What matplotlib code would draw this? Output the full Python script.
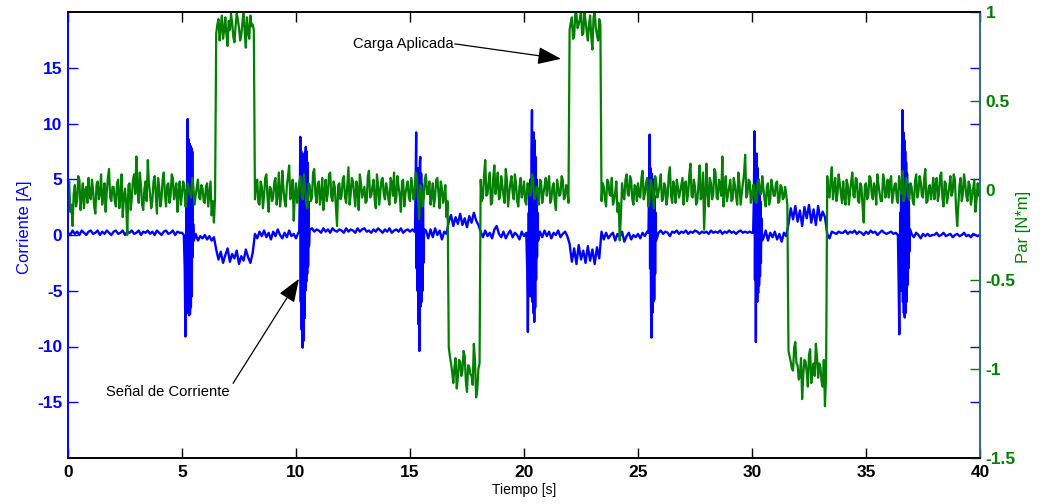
import numpy as np
import matplotlib
matplotlib.use("Agg")
import matplotlib.pyplot as plt

plt.rcParams['font.family'] = ['Liberation Sans', 'DejaVu Sans']

# muestreo base cada 0.1 s (0 .. 40 s)
dt = 0.1

# par medido, en centesimas de N*m (t = 0, 0.1, ... 40)
par_cNm = [
    -4, -12, -20, 3, -6, 6, -3, -10, 2, 7,
    -5, 0, -13, 5, -2, -8, 4, -1, 12, -6,
    2, -9, 6, -3, -15, 1, -25, 4, -4, 9,
    19, -7, 3, -11, 5, 17, -2, -6, 8, -13,
    2, -5, 10, -9, 4, -3, 7, -1, -12, 5,
    -2, 3, -6, 1, -4, 2, -3, 6, -5, 1,
    -7, 4, -2, -14, -18,
    88, 96, 92, 85, 97, 81, 90, 94, 83, 99,
    91, 87, 101, 80, 89, 98, 93,
    -5, 6, -8, 2, -3, 9, -12, 1,
    -4, 7, -2, -9, 11, -6, 3, 14, -3, -17,
    4, -2, 8, -5, 1, -10, 3, -4, 12, -7,
    5, -3, -11, 6, -1, 10, -6, 2, -20, 4,
    -3, 8, -7, 13, -2, 5, -9, 1, 9, -4,
    2, -6, 11, -3, 6, -10, 3, -1, 7, -5,
    1, -8, 4, 10, -4, 2, -12, 6, -2, 5,
    -6, 3, -3, 8, -16, 2, -5, 9, -2, -8,
    4, -4, 7, -10, 1, -3, -15,
    -88, -97, -108, -94, -105, -96, -101, -93, -113, -99, -104, -86, -116, -100,
    6, -4, 17, -2, 10, -7, 14, 3, -5,
    8, -3, 12, -9, 4, -1, 9, -6, 2, -4,
    5, -8, 3, -2, 7, -4, 1, 6, -7, 2,
    -3, 8, -5, 4, -11, 2, -2, 6, -4, 1,
    90, 97, 86, 99, 93, 101, 88, 95, 84, 98, 79, 100, 87, 96,
    -6, 2, -9, 5, -3, -8,
    -1, -12, -28, 4, -5, 9, -3, 6, -8, 2,
    4, -4, 11, -2, 7, -6, 3, -10, 5, -1,
    9, -5, 2, -3, 13, -7, 1, 6, -4, 3,
    -8, 5, -2, 15, -4, 2, -6, 14, -3, -22,
    15, -9, 4, -2, 10, -5, 3, 19, 1, -6,
    2, -6, 7, -3, 10, -8, 4, 20, -2, 5,
    -4, 3, -7, 6, -2, 1, -9, 4, -5, 2,
    -3, 5, -6, 2, -4, -2,
    -90, -96, -101, -85, -98, -104, -117, -95, -102, -92, -108, -97, -86, -105, -99, -110, -121,
    8, -4, 13, 2, -6, 9, -2,
    5, -8, 3, -1, 10, -4, 6, -7, 2, -18,
    4, -3, 7, -5, 1, 9, -2, -6, 5, -1,
    -4, 8, -2, 4, -7, 3, 11, -3, 6, -5,
    2, -8, 9, -1, 5, -4, 12, -6, 3, 0,
    -5, 7, -2, 10, -9, 4, -3, 8, -1, 6,
    -20, 3, -6, 9, -3, 5, -8, 1, -12, 4,
    -2,
]

# par en los instantes intermedios (t = 0.05, 0.15, ... 39.95)
par_medio_cNm = [
    5, -8, -2, -9, 8, -11, 4, 0, -7, -3,
    6, -9, 3, -5, 9, -3, -12, 7, -4, 2,
    -6, 4, -10, 9, -4, -7, 3, -11, 6, -2,
    2, 10, -8, 1, -6, 4, -10, 5, -3, 7,
    -9, 6, -2, 3, -7, 9, -5, 4, -1, -8,
    5, -9, 4, -2, 7, -8, 2, -4, 3, -6,
    2, -9, 5, -6, -4,
    93, 84, 98, 90, 87, 95, 99, 86, 92, 96, 84, 94, 89, 97, 85, 92, 90,
    3, -7, 5, -10, 7, -4, 2, -6,
    5, -8, 10, -3, 1, -9, 8, -5, 6, -2,
    -7, 5, -3, 9, -8, 4, -6, 10, -2, 3,
    -8, 7, -1, -6, 9, -4, 5, -9, 3, -5,
    6, -4, 3, -8, 7, -2, 5, -11, 4, -1,
    -7, 8, -4, 2, -5, 9, -8, 6, -2, 4,
    -5, 7, -3, -7, 8, -3, 5, -9, 2, -4,
    7, -5, 10, -4, 3, -9, 6, -2, 5, -3,
    -9, 6, -2, 5, -7, 3, -6,
    -93, -102, -99, -111, -95, -104, -90, -107, -98, -103, -109, -95, -112, -97,
    -6, 9, -3, 5, -8, 7, -2, 10, -4,
    3, -7, 6, -2, 8, -5, 4, -9, 7, -1,
    -6, 4, -3, 9, -5, 2, -8, 5, -2, 7,
    4, -7, 2, -6, 6, -3, 8, -5, 3, -7,
    94, 85, 99, 91, 96, 87, 100, 89, 93, 86, 97, 91, 84, 93,
    4, -5, 6, -2, 7, -6,
    5, -7, -14, -3, 6, -2, 8, -5, 3, -6,
    -3, 7, -5, 4, -9, 6, -2, 8, -4, 3,
    -6, 4, -8, 9, -3, 5, -7, 2, -1, 7,
    4, -6, 9, -3, 6, -8, 3, -5, 10, -4,
    -2, 7, -5, 12, -4, 6, -3, -9, 8, -2,
    6, -5, 3, -8, 4, -2, 9, -4, 6, -7,
    3, -6, 5, -2, 8, -5, 2, -8, 6, -3,
    4, -7, 3, -5, 2, -8,
    -93, -100, -88, -97, -106, -94, -103, -96, -110, -89, -101, -104, -93, -97, -107, -95, -103,
    -3, 6, -5, 7, -2, 4, -7,
    -4, 6, -8, 5, -3, 7, -6, 4, -9, 3,
    -5, 8, -2, 4, -8, 3, -6, 9, -4, 6,
    5, -7, 3, -5, 8, -2, -6, 7, -3, 4,
    -6, 5, -4, 8, -3, 6, -7, 2, -5, 7,
    3, -6, 8, -4, 5, -7, 2, -3, 9, -10,
    -8, 7, -2, 4, -6, 3, -4, 6, -5, -3,
]

# corriente de fase, en decimas de A
corriente_dA = [
    2, 0, 4, 1, 3, 0, 4, 2, 0, 3,
    4, 1, 2, 4, 0, 3, 1, 4, 2, 0,
    3, 4, 1, 2, 4, 0, 3, 2, 4, 1,
    2, 4, 0, 3, 2, 4, 1, 3, 0, 4,
    2, 0, 3, 4, 1, 2, 4, 0, 3, 2,
    2, 1, 0, 0, 0, -2, 1, -5, -1, -3,
    0, -4, -1, -5, -2,
    -13, -22, -15, -25, -18, -12, -24, -17, -21, -14, -26, -19, -23, -13, -20, -25, -16,
    1, -3, 3, -1, 4, -2, 2, -4,
    3, -1, 5, 0, -3, 2, -2, 4, -1, 1,
    -3, 2, 0, 0, 0, 0, 4, 6, 3, 5,
    4, 2, 6, 3, 5, 2, 6, 4, 3, 5,
    4, 2, 6, 3, 5, 4, 2, 6, 3, 5,
    6, 3, 4, 2, 5, 3, 6, 4, 2, 5,
    3, 6, 2, 4, 5, 3, 6, 2, 4, 5,
    3, 5, 3, 0, 0, 0, 0, 4, -3, 5,
    -2, 6, 0, 4, -4, 3, 1,
    12, 18, 8, 16, 10, 19, 9, 15, 7, 17, 11, 20, 13, 9,
    3, -2, 4, -1, 2, -3, 5, 8, 1,
    -2, 3, -3, 1, 4, -2, 2, 0, -4, 3,
    -1, 2, 0, 0, 0, 0, 0, 3, -2, 4,
    -1, 3, -3, 2, 0, 4, -2, 1, 3, -1,
    -8, -24, -12, -26, -9, -22, -14, -25, -10, -23, -13, -26, -11, -21,
    3, -4, 2, -3, 0, 2,
    -5, 1, -2, 3, -6, -1, 2, -4, 0, -2,
    1, -3, 2, -1, 3, 0, 0, 0, 0, 2,
    4, 1, 3, 2, -1, 3, 2, 4, 1, 3,
    2, 4, 1, 3, 2, 4, 3, 1, 3, 2,
    3, 1, 4, 2, 3, 2, 4, 1, 3, 2,
    4, 2, 3, 1, 3, 4, 2, 3, 2, 3,
    2, 0, 0, 0, 0, -3, 4, -5, 2, -2,
    3, -4, 1, -6, 2, -1,
    10, 24, 14, 26, 12, 22, 8, 25, 15, 27, 11, 23, 9, 26, 13, 21, 16,
    1, -3, 3, 2, 1, 3, 2,
    2, 4, 1, 3, 2, 4, 1, 3, 2, 0,
    3, 1, 4, 2, 3, 0, 2, 4, 2, 1,
    2, 3, 1, 2, 0, 0, 0, 0, 0, 0,
    1, -2, 2, 0, -3, 1, -1, 1, -1, 0,
    0, 2, -1, 0, 2, -1, 0, 1, -2, 0,
    1, -1, 0, 2, -1, 0, -2, 1, 0, -1,
    0,
]

# transitorios de corriente en cada cambio de carga (t [s], i [A])
picos_t = [
    [5.08, 5.12, 5.15, 5.17, 5.19, 5.21, 5.23, 5.25, 5.27, 5.29, 5.31, 5.33, 5.35,
     5.37, 5.39, 5.41, 5.43, 5.45, 5.47, 5.49, 5.52],
    [10.14, 10.17, 10.19, 10.21, 10.23, 10.25, 10.27, 10.29, 10.31, 10.33, 10.35,
     10.37, 10.39, 10.41, 10.43, 10.45, 10.47, 10.49, 10.51, 10.53, 10.55, 10.57, 10.60],
    [15.22, 15.25, 15.27, 15.29, 15.31, 15.33, 15.35, 15.37, 15.39, 15.41, 15.43,
     15.45, 15.47, 15.49, 15.51, 15.53, 15.55, 15.57, 15.59, 15.62],
    [20.10, 20.14, 20.17, 20.19, 20.21, 20.23, 20.25, 20.27, 20.29, 20.31, 20.33,
     20.35, 20.37, 20.39, 20.41, 20.43, 20.45, 20.47, 20.49, 20.51, 20.53, 20.55,
     20.57, 20.59, 20.62],
    [25.46, 25.49, 25.51, 25.53, 25.55, 25.57, 25.59, 25.61, 25.63, 25.65, 25.67,
     25.69, 25.71, 25.73, 25.75, 25.77, 25.80],
    [30.05, 30.08, 30.11, 30.13, 30.15, 30.17, 30.19, 30.21, 30.23, 30.25, 30.27,
     30.29, 30.31, 30.33, 30.35, 30.37, 30.39, 30.41, 30.44],
    [36.40, 36.43, 36.46, 36.48, 36.50, 36.52, 36.54, 36.56, 36.58, 36.60, 36.62,
     36.64, 36.66, 36.68, 36.70, 36.72, 36.74, 36.76, 36.78, 36.80, 36.82, 36.84,
     36.86, 36.88, 36.90, 36.93],
]
picos_i = [
    [0, -3, -9.1, -5, 4, -6, 7, 10.4, -7, 8.6, -7.2, 8.2, -7.1,
     8.0, -6.5, 7.8, -5.5, 7.5, -2, 1, -0.5],
    [0.3, 4, 8.8, -6, 7.5, -8.5, 7.2, -10.1, 7.0, -9.5, 7.2,
     -7.5, 7.4, -5, 7.9, -4.2, 7.5, -3.5, 6.5, -2.8, 3, -1, 0.5],
    [0.3, 5, 9.2, -3, 6, -5, 5.5, -8, 6, -10.4, 6.5,
     7.0, -6.4, 5.5, -6.0, 4.5, -5, 3, -2.5, 0.5],
    [0.2, -3, -8.7, -4, 2, -5, 4, -5.5, 5, -5, 7,
     11.2, -6, 8.5, -7, 9.2, -7.8, 8.5, -6.5, 7, -4, 5,
     -2, 2, -0.5],
    [0.2, 5, 9.0, -3, 6, -6, -9.2, 5.5, -7, 5, -6,
     4.5, -5.8, 3.5, -3.5, 2, -0.5],
    [0.2, 3, 9.3, -4, 6, -9.6, 6.5, 7.3, -6, 6, -5.2,
     5, -4.5, 4, -3.7, 3, -2.5, 1.5, -0.5],
    [0, -4, -8.9, -3, 2, -4, 4, -5, 7, 11.2, -6,
     9.2, -7, 8.5, -7.4, 7.5, -7, 6.5, -6, 5.5, -4.5, 4.5,
     -3, 3, -1.5, 0.5],
]

# par intercalado: muestras enteras y medias
n = len(par_cNm)
t = np.arange(2 * n - 1) * dt / 2
par = np.empty(2 * n - 1)
par[0::2] = np.array(par_cNm) / 100.0
par[1::2] = np.array(par_medio_cNm) / 100.0

# se insertan los transitorios sobre la corriente base
t_i = np.arange(len(corriente_dA)) * dt
i_base = np.array(corriente_dA) / 10.0
keep = np.ones(len(t_i), dtype=bool)
for tp in picos_t:
    keep &= ~((t_i >= tp[0] - 1e-9) & (t_i <= tp[-1] + 1e-9))
t_i = np.concatenate([t_i[keep]] + [np.array(tp) for tp in picos_t])
corriente = np.concatenate([i_base[keep]] + [np.array(ip) for ip in picos_i])
orden = np.argsort(t_i)
t_i = t_i[orden]
corriente = corriente[orden]

azul = '#0000ff'
verde = '#007f00'
eje_der = '#2e6878'

fig = plt.figure(figsize=(10.42, 5.04), dpi=100)
ax = fig.add_axes([68 / 1042, 46 / 504, 912 / 1042, 446 / 504])
ax2 = ax.twinx()

ax.plot(t_i, corriente, color=azul, lw=1.7)
ax2.plot(t, par, color=verde, lw=1.6)

ax.set_xlim(0, 40)
ax.set_ylim(-20, 20)
ax.set_xticks(np.arange(0, 41, 5))
ax.set_yticks(np.arange(-15, 16, 5))
ax.set_yticklabels([str(v) for v in range(-15, 16, 5)])
ax2.set_ylim(-1.5, 1)
ax2.set_yticks([-1.5, -1, -0.5, 0, 0.5, 1])
ax2.set_yticklabels(['-1.5', '-1', '-0.5', '0', '0.5', '1'])

ax.tick_params(axis='x', direction='in', length=7, width=1, top=True,
               labelsize=12.5, pad=5, colors='black')
ax.tick_params(axis='y', direction='in', length=7, width=1, right=True,
               labelsize=12.5, pad=4, colors=azul)
ax2.tick_params(axis='y', direction='in', length=7, width=1,
                labelsize=12.5, pad=4, colors=verde)
for lab in ax.get_xticklabels() + ax.get_yticklabels() + ax2.get_yticklabels():
    lab.set_fontweight('bold')

for a in (ax, ax2):
    a.spines['left'].set_color(azul)
    a.spines['right'].set_color(eje_der)
    a.spines['top'].set_color('black')
    a.spines['bottom'].set_color('black')
    for s in a.spines.values():
        s.set_linewidth(1.2)

ax.set_xlabel('Tiempo [s]', fontsize=10, labelpad=2)
ax.set_ylabel('Corriente [A]', fontsize=12, color=azul)
ax2.set_ylabel('Par [N*m]', fontsize=12, color=verde)
ax.yaxis.set_label_coords(-0.04, 0.518)
ax2.yaxis.set_label_coords(1.04, 0.518)

# anotaciones
flecha = dict(arrowstyle='-|>,head_length=0.8,head_width=0.3',
              color='black', lw=0.9, mutation_scale=18, shrinkA=0, shrinkB=0)
ax.text(12.5, 17.14, 'Carga Aplicada', fontsize=10.6, ha='left', va='center')
ax.annotate('', xy=(21.62, 15.8), xytext=(16.97, 17.14), arrowprops=flecha)
ax.text(1.67, -14.1, 'Señal de Corriente', fontsize=10.6, ha='left', va='center')
ax.annotate('', xy=(10.13, -3.93), xytext=(7.24, -13.3), arrowprops=flecha)

fig.savefig('out.png', dpi=100)
